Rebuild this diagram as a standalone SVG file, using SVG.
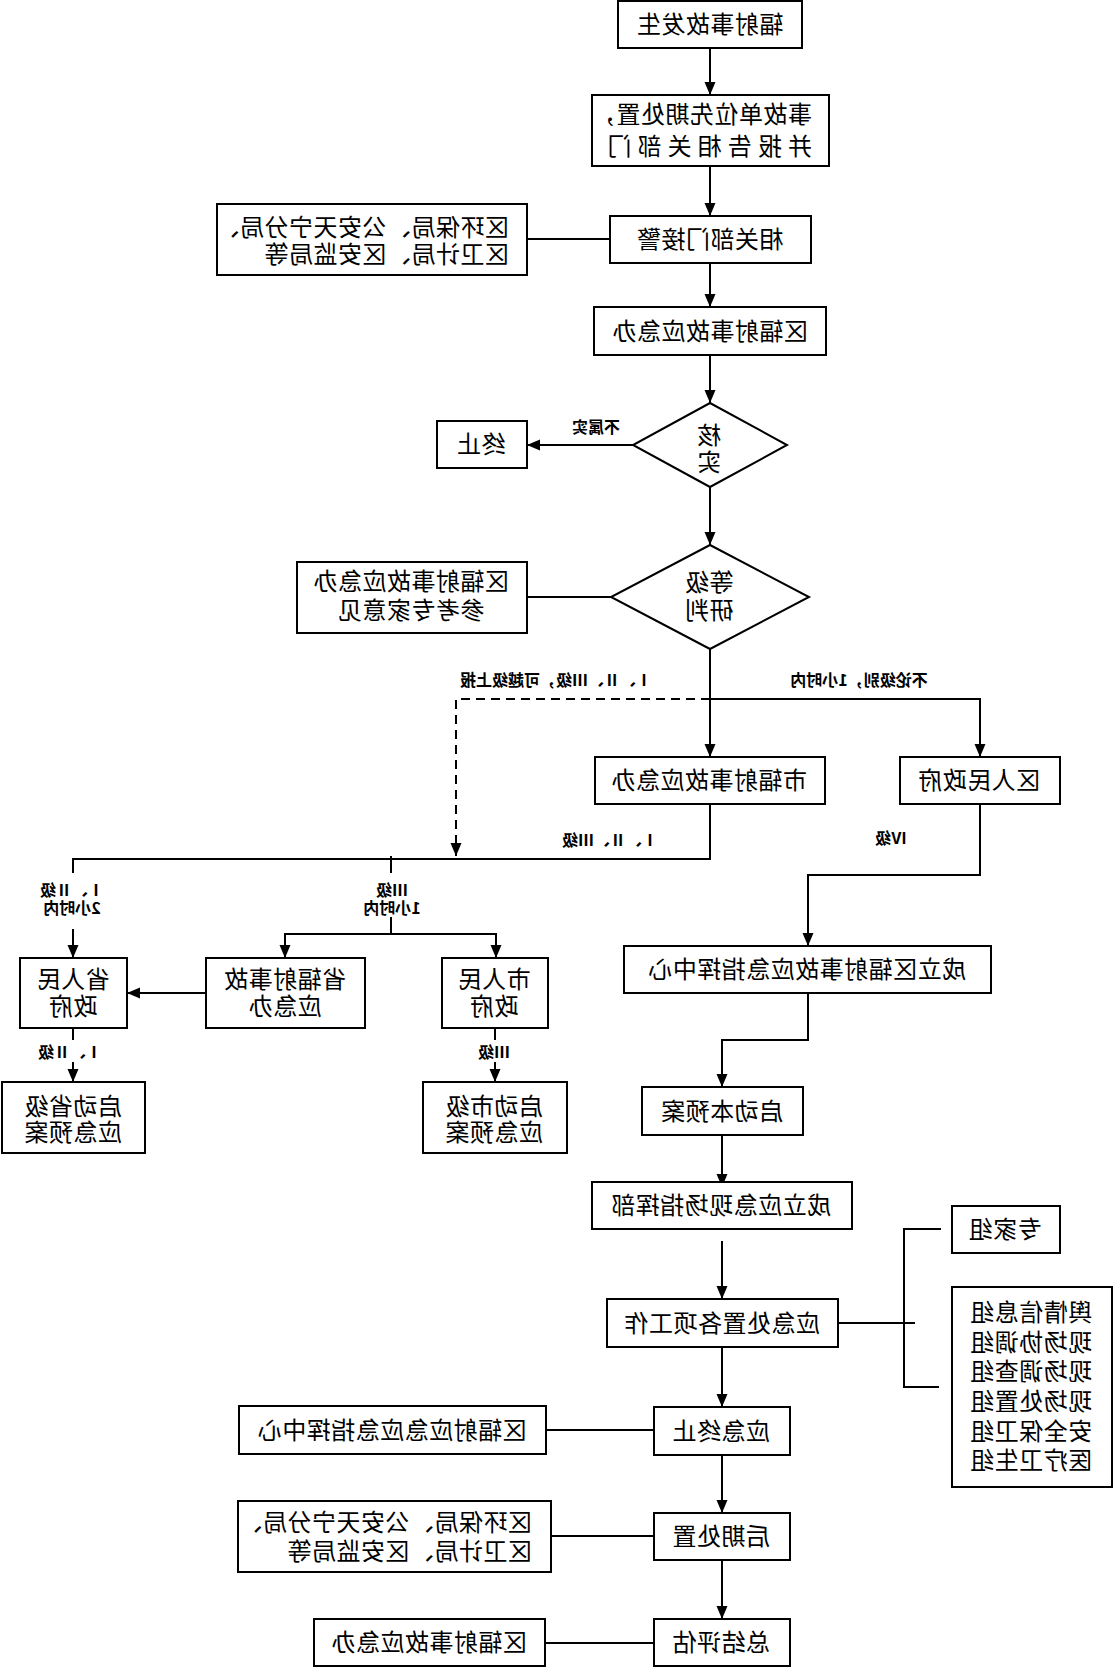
<svg xmlns="http://www.w3.org/2000/svg" width="1113" height="1672" viewBox="0 0 1113 1672">
<style>
rect{fill:#fff;stroke:#000;stroke-width:2}
polygon.d{fill:#fff;stroke:#000;stroke-width:2}
.c path{fill:none;stroke:#000;stroke-width:2}
.c path.a{marker-end:url(#ah)}
.c path.dash{stroke-dasharray:9 6}
text{font-family:"Noto Sans CJK SC","Noto Sans",sans-serif;fill:#000}
.t{font-size:24px;letter-spacing:0.5px;text-anchor:middle}
.s{font-size:24px;letter-spacing:0.5px;text-anchor:start}
.l{font-size:16px;font-weight:bold;text-anchor:middle}
</style>
<defs>
<marker id="ah" viewBox="0 0 13 12" refX="13" refY="6" markerWidth="13" markerHeight="12" markerUnits="userSpaceOnUse" orient="auto">
<path d="M0,0.5 L13,6 L0,11.5 z" fill="#000"/>
</marker>
</defs>
<g transform="matrix(-1 0 0 1 1113 0)">
<g id="connectors" class="c">
<path class="a" d="M403,48 V95"/>
<path class="a" d="M403,166 V216"/>
<path d="M503,239 H586"/>
<path class="a" d="M403,263 V307"/>
<path class="a" d="M403,355 V403"/>
<path class="a" d="M480,445 H586"/>
<path class="a" d="M403,487 V545"/>
<path d="M502,597 H586"/>
<path class="a" d="M403,649 V757"/>
<path class="a" d="M403,699 H133 V757"/>
<path class="a dash" d="M403,699 H657 V856"/>
<path d="M403,804 V859 H1040 V873"/>
<path d="M722,856 V873"/>
<path class="a" d="M1040,929 V958"/>
<path d="M722,917 V934"/>
<path class="a" d="M722,934 H828 V958"/>
<path class="a" d="M722,934 H617 V958"/>
<path class="a" d="M907,993 H986"/>
<path d="M1040,1028 V1040"/>
<path class="a" d="M1040,1062 V1082"/>
<path d="M618,1028 V1040"/>
<path class="a" d="M618,1062 V1082"/>
<path class="a" d="M133,804 V875 H305 V946"/>
<path class="a" d="M305,993 V1040 H391 V1087"/>
<path class="a" d="M391,1135 V1187"/>
<path class="a" d="M391,1241 V1299"/>
<path d="M275,1323 H198"/>
<path d="M172,1229 H209 V1387 H174"/>
<path class="a" d="M391,1347 V1407"/>
<path d="M459,1430 H567"/>
<path class="a" d="M391,1455 V1513"/>
<path d="M459,1536 H562"/>
<path class="a" d="M391,1560 V1619"/>
<path d="M459,1643 H568"/>
</g>
<g id="labels">
<text class="l" x="517" y="433">不属实</text>
<text class="l" x="557" y="686">Ⅰ、Ⅱ、Ⅲ级，可越级上报</text>
<text class="l" x="254" y="686">不论级别，1小时内</text>
<text class="l" x="503" y="846">Ⅰ、Ⅱ、Ⅲ级</text>
<text class="l" x="222" y="844">Ⅳ级</text>
<text class="l" x="1041" y="896">Ⅰ、Ⅱ级<tspan x="1041" dy="18">2小时内</tspan></text>
<text class="l" x="721" y="896">Ⅲ级<tspan x="721" dy="18">1小时内</tspan></text>
<text class="l" x="1043" y="1058">Ⅰ、Ⅱ级</text>
<text class="l" x="619" y="1058">Ⅲ级</text>
</g>
<g id="n1"><rect x="311" y="1" width="184" height="47"/><text class="t" x="403" y="33">辐射事故发生</text></g>
<g id="n2"><rect x="284" y="95" width="237" height="71"/><text class="s" x="301" y="123">事故单位先期处置，<tspan x="301" dy="32" textLength="205" lengthAdjust="spacing">并报告相关部门</tspan></text></g>
<g id="n3"><rect x="302" y="216" width="201" height="47"/><text class="t" x="403" y="248">相关部门接警</text></g>
<g id="n3l"><rect x="586" y="204" width="310" height="71"/><text class="s" x="604" y="236">区环保局、公安天宁分局、<tspan x="604" dy="27">区卫计局、区安监局等</tspan></text></g>
<g id="n4"><rect x="287" y="307" width="232" height="48"/><text class="t" x="403" y="340">区辐射事故应急办</text></g>
<g id="d1"><polygon class="d" points="403,403 480,445 403,487 326,445"/><text class="t" x="404" y="444">核<tspan x="404" dy="27">实</tspan></text></g>
<g id="n-stop"><rect x="586" y="421" width="90" height="47"/><text class="t" x="632" y="453">终止</text></g>
<g id="d2"><polygon class="d" points="403,545 502,597 403,649 304,597"/><text class="t" x="404" y="591">等级<tspan x="404" dy="28">研判</tspan></text></g>
<g id="d2l"><rect x="586" y="562" width="230" height="71"/><text class="t" x="702" y="590">区辐射事故应急办<tspan x="702" dy="29">参考专家意见</tspan></text></g>
<g id="n5"><rect x="288" y="757" width="230" height="47"/><text class="t" x="404" y="789">市辐射事故应急办</text></g>
<g id="n6"><rect x="53" y="757" width="160" height="47"/><text class="t" x="134" y="789">区人民政府</text></g>
<g id="n7"><rect x="986" y="958" width="107" height="70"/><text class="t" x="1040" y="988">省人民<tspan x="1040" dy="27">政府</tspan></text></g>
<g id="n8"><rect x="748" y="958" width="159" height="70"/><text class="t" x="828" y="988">省辐射事故<tspan x="828" dy="27">应急办</tspan></text></g>
<g id="n9"><rect x="565" y="958" width="106" height="70"/><text class="t" x="619" y="988">市人民<tspan x="619" dy="27">政府</tspan></text></g>
<g id="n10"><rect x="968" y="1082" width="143" height="71"/><text class="t" x="1040" y="1115">启动省级<tspan x="1040" dy="26">应急预案</tspan></text></g>
<g id="n11"><rect x="546" y="1082" width="144" height="71"/><text class="t" x="619" y="1115">启动市级<tspan x="619" dy="26">应急预案</tspan></text></g>
<g id="n12"><rect x="122" y="946" width="367" height="47"/><text class="t" x="306" y="978">成立区辐射事故应急指挥中心</text></g>
<g id="n13"><rect x="310" y="1087" width="161" height="48"/><text class="t" x="391" y="1120">启动本预案</text></g>
<g id="n14"><rect x="261" y="1182" width="260" height="47"/><text class="t" x="392" y="1214">成立应急现场指挥部</text></g>
<g id="n15"><rect x="275" y="1299" width="231" height="48"/><text class="t" x="391" y="1332">应急处置各项工作</text></g>
<g id="n16"><rect x="53" y="1206" width="108" height="47"/><text class="t" x="108" y="1238">专家组</text></g>
<g id="n17"><rect x="1" y="1287" width="160" height="200"/>
<text class="t" x="82" y="1321">舆情信息组<tspan x="82" dy="30">现场协调组</tspan><tspan x="82" dy="29">现场调查组</tspan><tspan x="82" dy="30">现场处置组</tspan><tspan x="82" dy="30">安全保卫组</tspan><tspan x="82" dy="29">医疗卫生组</tspan></text></g>
<g id="n18"><rect x="323" y="1407" width="136" height="48"/><text class="t" x="392" y="1440">应急终止</text></g>
<g id="n18l"><rect x="567" y="1406" width="307" height="48"/><text class="t" x="721" y="1439">区辐射应急应急指挥中心</text></g>
<g id="n19"><rect x="323" y="1513" width="136" height="47"/><text class="t" x="392" y="1545">后期处置</text></g>
<g id="n19l"><rect x="562" y="1501" width="313" height="71"/><text class="s" x="581" y="1531">区环保局、公安天宁分局、<tspan x="581" dy="29">区卫计局、区安监局等</tspan></text></g>
<g id="n20"><rect x="323" y="1619" width="136" height="47"/><text class="t" x="392" y="1651">总结评估</text></g>
<g id="n20l"><rect x="568" y="1619" width="231" height="47"/><text class="t" x="684" y="1651">区辐射事故应急办</text></g>
</g>
</svg>
